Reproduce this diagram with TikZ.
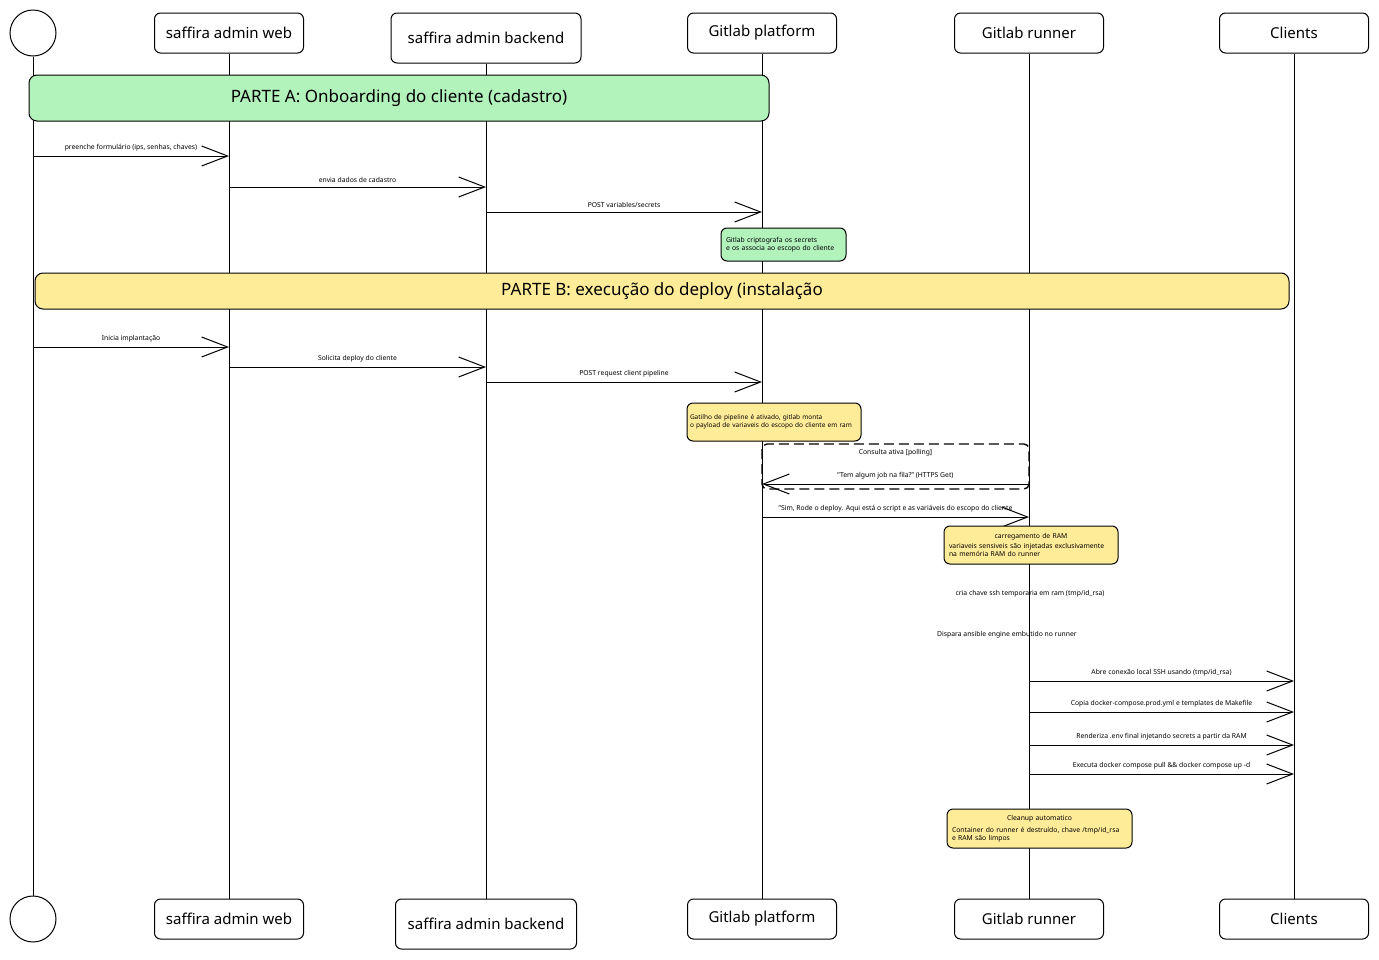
\documentclass[tikz,border=0pt]{standalone}
\usepackage{fontspec}
\setmainfont{Noto Sans}
\usetikzlibrary{arrows.meta, positioning}

\definecolor{partgreen}{HTML}{B2F2BB}
\definecolor{partyellow}{HTML}{FFEC99}

\begin{document}
\begin{tikzpicture}[
        x = 1pt, y = -1pt,
        line width = 1pt,
        >= {Straight Barb[length = 26pt, width = 20pt]},
        actor/.style = {draw, circle, minimum size = 46pt, inner sep = 0pt},
        lane/.style  = {draw, rounded corners = 6pt, minimum width = 149pt, minimum height = 40pt,
                        font = \fontsize{15}{17}\selectfont},
        part/.style  = {draw, rounded corners = 8pt, font = \fontsize{17}{20}\selectfont},
        note/.style  = {draw, rounded corners = 6pt, inner xsep = 5pt, inner ysep = 4pt, align = left,
                        font = \fontsize{6.8}{8.2}\selectfont},
        msg/.style   = {->},
        lbl/.style   = {above = 3pt, inner sep = 1pt, font = \fontsize{6.8}{8}\selectfont},
        free/.style  = {font = \fontsize{6.8}{8}\selectfont}
    ]

    \useasboundingbox (0,0) rectangle (1379,959);

    % participants, top
    \node[actor] (actorT) at (33,33)   {};
    \node[lane]  (webT)   at (229,33)  {saffira admin web};
    \node[lane, minimum width = 190pt, minimum height = 50pt] (backT) at (486,38) {saffira admin backend};
    \node[lane]  (platT)  at (762,33)  {Gitlab platform};
    \node[lane]  (runT)   at (1029,33) {Gitlab runner};
    \node[lane]  (cliT)   at (1294,33) {Clients};

    % participants, bottom
    \node[actor] (actorB) at (33,919)  {};
    \node[lane]  (webB)   at (229,919) {saffira admin web};
    \node[lane, minimum width = 181pt, minimum height = 50pt] (backB) at (486,924) {saffira admin backend};
    \node[lane]  (platB)  at (762,919) {Gitlab platform};
    \node[lane]  (runB)   at (1029,919) {Gitlab runner};
    \node[lane]  (cliB)   at (1294,919) {Clients};

    % lifelines
    \draw (actorT) -- (actorB);
    \draw (webT)   -- (webB);
    \draw (backT)  -- (backB);
    \draw (platT)  -- (platB);
    \draw (runT)   -- (runB);
    \draw (cliT)   -- (cliB);

    % PARTE A
    \node[part, fill = partgreen, minimum width = 740pt, minimum height = 46pt] (partA) at (399,98)
        {PARTE A: Onboarding do cliente (cadastro)};

    \coordinate (r1) at (0,156);
    \coordinate (r2) at (0,187);
    \coordinate (r3) at (0,212);

    \draw[msg] (actorT |- r1) -- node[lbl] {preenche formulário (ips, senhas, chaves)} (webT |- r1);
    \draw[msg] (webT |- r2)   -- node[lbl] {envia dados de cadastro} (backT |- r2);
    \draw[msg] (backT |- r3)  -- node[lbl] {POST variables/secrets} (platT |- r3);

    \node[note, fill = partgreen, minimum width = 125pt, minimum height = 33pt, text width = 115pt] (crypt) at (783.5,244.5)
        {Gitlab criptografa os secrets\\e os associa ao escopo do cliente};

    % PARTE B
    \node[part, fill = partyellow, minimum width = 1254pt, minimum height = 36pt] (partB) at (662,291)
        {PARTE B: execução do deploy (instalação};

    \coordinate (r4) at (0,347);
    \coordinate (r5) at (0,367);
    \coordinate (r6) at (0,382);

    \draw[msg] (actorT |- r4) -- node[lbl] {Inicia implantação} (webT |- r4);
    \draw[msg] (webT |- r5)   -- node[lbl] {Solicita deploy do cliente} (backT |- r5);
    \draw[msg] (backT |- r6)  -- node[lbl] {POST request client pipeline} (platT |- r6);

    \node[note, fill = partyellow, minimum width = 174pt, minimum height = 38pt, text width = 168pt, inner xsep = 3pt,
          font = \fontsize{6.5}{8.2}\selectfont] (trigger) at (774,422)
        {Gatilho de pipeline é ativado, gitlab monta\\o payload de variaveis do escopo do cliente em ram};

    % polling loop
    \coordinate (loopA) at (762,444);
    \coordinate (loopB) at (1029,489);
    \draw[line width = 1.4pt, dash pattern = on 10pt off 5pt, rounded corners = 5pt] (loopA) rectangle (loopB);
    \node[free, below = 1pt] (loopT) at (895.5,444) {Consulta ativa [polling]};

    \coordinate (r7) at (0,484);
    \coordinate (r8) at (0,517);

    \draw[msg] (runT |- r7)  -- node[lbl] {"Tem algum job na fila?" (HTTPS Get)} (platT |- r7);
    \draw[msg] (platT |- r8) -- node[lbl] {"Sim, Rode o deploy. Aqui está o script e as variáveis do escopo do cliente} (runT |- r8);

    \node[note, fill = partyellow, minimum width = 174pt, minimum height = 38pt, text width = 164pt] (ramload) at (1031,545)
        {\makebox[\linewidth]{carregamento de RAM}\\[2pt]variaveis sensiveis são injetadas exclusivamente\\na memória RAM do runner};

    \node[free] (sshkey)  at (1030,594) {cria chave ssh temporaria em ram (tmp/id\_rsa)};
    \node[free] (ansible) at (1007,635) {Dispara ansible engine embutido no runner};

    \coordinate (r9)  at (0,681);
    \coordinate (r10) at (0,712);
    \coordinate (r11) at (0,745);
    \coordinate (r12) at (0,774);

    \draw[msg] (runT |- r9)  -- node[lbl] {Abre conexão local SSH usando (tmp/id\_rsa)} (cliT |- r9);
    \draw[msg] (runT |- r10) -- node[lbl] {Copia docker-compose.prod.yml e templates de Makefile} (cliT |- r10);
    \draw[msg] (runT |- r11) -- node[lbl] {Renderiza .env final injetando secrets a partir da RAM} (cliT |- r11);
    \draw[msg] (runT |- r12) -- node[lbl] {Executa docker compose pull \&\& docker compose up -d} (cliT |- r12);

    \node[note, fill = partyellow, minimum width = 185pt, minimum height = 39pt, text width = 175pt] (cleanup) at (1039.5,828.5)
        {\makebox[\linewidth]{Cleanup automatico}\\[4pt]Container do runner é destruído, chave /tmp/id\_rsa\\e RAM são limpos};

\end{tikzpicture}
\end{document}
